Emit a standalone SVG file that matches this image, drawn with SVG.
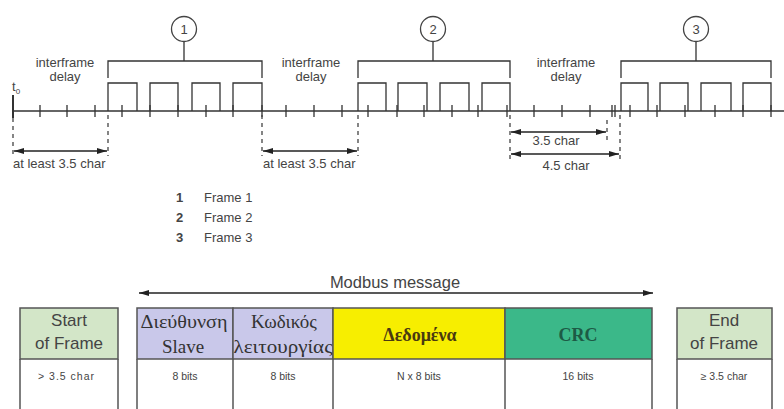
<svg xmlns="http://www.w3.org/2000/svg" width="784" height="409" viewBox="0 0 784 409">
<defs>
<marker id="ah" viewBox="0 0 10 6" refX="10" refY="3" markerWidth="10" markerHeight="6" markerUnits="userSpaceOnUse" orient="auto-start-reverse">
<path d="M0,0 L10,3 L0,6 z" fill="#222"/>
</marker>
<style>
.ln{stroke:#333;stroke-width:1.3;fill:none}
.tk{stroke:#333;stroke-width:1.3}
.ds{stroke:#444;stroke-width:1.3;stroke-dasharray:4,4;fill:none}
.ar{stroke:#222;stroke-width:1.3;fill:none;marker-start:url(#ah);marker-end:url(#ah)}
.t{font-family:"Liberation Sans",Arial,sans-serif;fill:#444;font-size:13px}
.tm{font-family:"Liberation Sans",Arial,sans-serif;fill:#444;text-anchor:middle}
.g{font-family:"Liberation Serif","Times New Roman",serif;text-anchor:middle}
.cell{stroke:#555;stroke-width:1.5}
</style>
</defs>
<rect width="784" height="409" fill="#fff"/>

<g id="timeline">
<line class="ln" x1="13" y1="111" x2="784" y2="111"/>
<line x1="13" y1="95" x2="13" y2="118" stroke="#333" stroke-width="2"/>
<text x="12" y="91" class="t" font-size="13">t<tspan font-size="8" dy="3">0</tspan></text>
<path class="tk" d="M40,105V117M67,105V117M95,105V117M122,105V117M150,105V117M178,105V117M206,105V117M233,105V117M262,105V117M286,105V117M314,105V117M342,105V117M368,105V117M397,105V117M424,105V117M452,105V117M478,105V117M507,105V117M534,105V117M562,105V117M590,105V117M612,105V117M615,105V117M630,105V117M657,105V117M685,105V117M715,105V117M743,105V117M771,105V117"/>
</g>

<g id="frame1">
<path class="ln" d="M108,111V83H137V111M150,111V83H178V111M192,111V83H220V111M233,111V83H262V111"/>
<path class="ln" d="M108,78V61H262V78M184,61V42"/>
<circle cx="184" cy="29" r="12.5" fill="#fff" stroke="#444" stroke-width="1.3"/>
<text x="184" y="34" class="tm" font-size="13">1</text>
</g>
<g id="frame2">
<path class="ln" d="M358,111V83H386V111M398,111V83H427V111M440,111V83H469V111M482,111V83H510V111"/>
<path class="ln" d="M358,78V61H510V78M433,61V42"/>
<circle cx="433" cy="29" r="12.5" fill="#fff" stroke="#444" stroke-width="1.3"/>
<text x="433" y="34" class="tm" font-size="13">2</text>
</g>
<g id="frame3">
<path class="ln" d="M621,111V83H648V111M660,111V83H688V111M701,111V83H731V111M743,111V83H771V111"/>
<path class="ln" d="M621,78V61H771V78M696,61V42"/>
<circle cx="696" cy="29" r="12.5" fill="#fff" stroke="#444" stroke-width="1.3"/>
<text x="696" y="34" class="tm" font-size="13">3</text>
</g>

<g id="delays">
<text x="65" y="67" class="tm" font-size="13">interframe</text>
<text x="65" y="81" class="tm" font-size="13">delay</text>
<text x="311" y="67" class="tm" font-size="13">interframe</text>
<text x="311" y="81" class="tm" font-size="13">delay</text>
<text x="566" y="67" class="tm" font-size="13">interframe</text>
<text x="566" y="81" class="tm" font-size="13">delay</text>
</g>

<g id="connectors">
<path class="ds" d="M13,118V156M108,115V156M262,115V156M358,115V156M510,115V160M620,115V160M607,120V141"/>
<line class="ar" x1="14" y1="151" x2="107" y2="151"/>
<line class="ar" x1="263" y1="151" x2="357" y2="151"/>
<line class="ar" x1="511" y1="132" x2="606" y2="132"/>
<line class="ar" x1="511" y1="154" x2="619" y2="154"/>
<line class="ar" x1="139" y1="293" x2="653" y2="293"/>
</g>

<g id="labels">
<text x="13" y="168" class="t" font-size="13.5">at least 3.5 char</text>
<text x="263" y="168" class="t" font-size="13.5">at least 3.5 char</text>
<text x="556" y="145" class="tm" font-size="13">3.5 char</text>
<text x="566" y="170" class="tm" font-size="13">4.5 char</text>
</g>

<g id="legend">
<text x="176" y="202" class="t" font-size="13" font-weight="bold" fill="#333">1</text>
<text x="204" y="202" class="t" font-size="14">Frame 1</text>
<text x="176" y="222" class="t" font-size="13" font-weight="bold" fill="#333">2</text>
<text x="204" y="222" class="t" font-size="14">Frame 2</text>
<text x="176" y="242" class="t" font-size="13" font-weight="bold" fill="#333">3</text>
<text x="204" y="242" class="t" font-size="14">Frame 3</text>
</g>

<g id="modbus-label">
<text x="395" y="288" class="tm" font-size="16.5" fill="#333">Modbus message</text>
</g>

<g id="start-frame">
<rect class="cell" x="20" y="308" width="98" height="51" fill="#d3e6c8"/>
<path class="cell" d="M20,359V409M118,359V409" fill="none"/>
<text x="69" y="326" class="tm" font-size="17">Start</text>
<text x="69" y="349" class="tm" font-size="17">of Frame</text>
<text x="66" y="380" class="tm" font-size="10.5" textLength="56">&gt; 3.5 char</text>
</g>
<g id="slave">
<rect class="cell" x="137" y="308" width="96" height="51" fill="#c9c8ea"/>
<path class="cell" d="M137,359V409" fill="none"/>
<text x="184" y="328" class="g" font-size="19" fill="#333" textLength="87" lengthAdjust="spacingAndGlyphs">Διεύθυνση</text>
<text x="183" y="353" class="g" font-size="19" fill="#333">Slave</text>
<text x="185" y="380" class="tm" font-size="10.5">8 bits</text>
</g>
<g id="function">
<rect class="cell" x="233" y="308" width="100" height="51" fill="#c9c8ea"/>
<path class="cell" d="M233,359V409" fill="none"/>
<text x="284" y="328" class="g" font-size="19" fill="#333">Κωδικός</text>
<text x="283" y="353" class="g" font-size="19" fill="#333" textLength="99" lengthAdjust="spacingAndGlyphs">λειτουργίας</text>
<text x="283" y="380" class="tm" font-size="10.5">8 bits</text>
</g>
<g id="data">
<rect class="cell" x="333" y="308" width="172" height="51" fill="#f7ee00"/>
<path class="cell" d="M333,359V409" fill="none"/>
<text x="420" y="341" class="g" font-size="18" font-weight="bold" fill="#4a3a10">Δεδομένα</text>
<text x="419" y="380" class="tm" font-size="10.5">N x 8 bits</text>
</g>
<g id="crc">
<rect class="cell" x="505" y="308" width="147" height="51" fill="#3bb889" stroke="#2d6650"/>
<path class="cell" d="M505,359V409M652,359V409" fill="none"/>
<text x="578" y="341" class="g" font-size="18" font-weight="bold" fill="#1d5a45">CRC</text>
<text x="578" y="380" class="tm" font-size="10.5">16 bits</text>
</g>
<g id="end-frame">
<rect class="cell" x="677" y="308" width="95" height="51" fill="#d3e6c8"/>
<path class="cell" d="M677,359V409M772,359V409" fill="none"/>
<text x="724" y="326" class="tm" font-size="17">End</text>
<text x="724" y="349" class="tm" font-size="17">of Frame</text>
<text x="724" y="380" class="tm" font-size="10.5">≥ 3.5 char</text>
</g>
</svg>
